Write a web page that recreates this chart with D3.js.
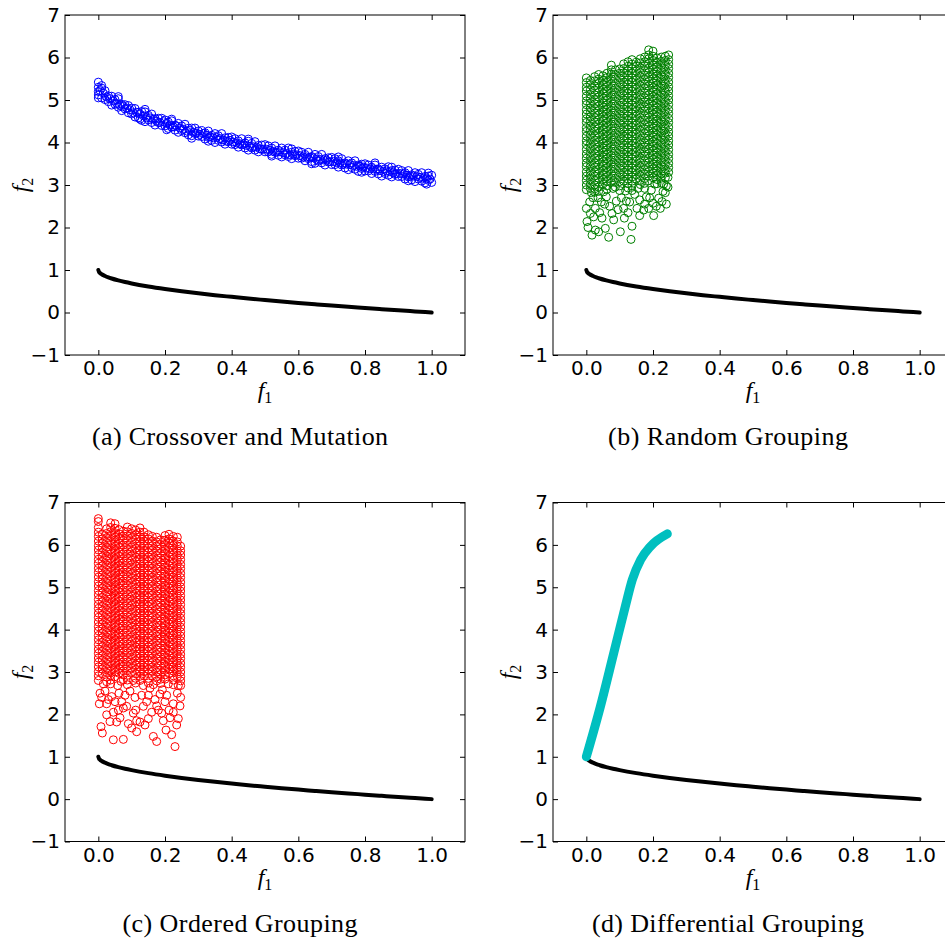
<!DOCTYPE html>
<html>
<head>
<meta charset="utf-8">
<script src="https://cdn.jsdelivr.net/npm/d3@7"></script>
<style>
  body { margin: 0; background: #fff; }
  svg { display: block; }
</style>
</head>
<body>
<div class="chart"></div>
<script>
// ---- data ----
var xTicks = [0.0, 0.2, 0.4, 0.6, 0.8, 1.0];
var yTicks = [-1, 0, 1, 2, 3, 4, 5, 6, 7];
var captions = ["(a) Crossover and Mutation", "(b) Random Grouping", "(c) Ordered Grouping", "(d) Differential Grouping"];

// true Pareto front (black)
var frontF1 = [0, 0.002, 0.005, 0.01, 0.02, 0.03, 0.04, 0.06, 0.08, 0.1, 0.15, 0.2, 0.25, 0.3, 0.35, 0.4, 0.45, 0.5, 0.55, 0.6, 0.65, 0.7, 0.75, 0.8, 0.85, 0.9, 0.95, 1.0];
var frontF2 = [1, 0.955, 0.93, 0.9, 0.86, 0.827, 0.8, 0.755, 0.717, 0.684, 0.613, 0.553, 0.5, 0.452, 0.408, 0.368, 0.329, 0.293, 0.258, 0.225, 0.194, 0.163, 0.134, 0.106, 0.078, 0.051, 0.025, 0];

// (a) crossover and mutation population
var bluePts = [
  [0.00,5.42],[0.00,5.12],[0.00,5.30],[0.00,5.20],[0.00,5.05],[0.01,5.28],[0.01,5.05],[0.01,5.34],[0.02,5.22],[0.02,5.01],
  [0.03,5.10],[0.03,4.96],[0.04,5.09],[0.04,4.88],[0.05,5.01],[0.05,4.90],[0.06,5.03],[0.06,4.83],[0.07,4.90],[0.07,4.75],
  [0.08,4.89],[0.08,4.79],[0.09,4.87],[0.09,4.70],[0.10,4.81],[0.10,4.67],[0.11,4.80],[0.11,4.60],[0.12,4.71],[0.12,4.58],
  [0.13,4.73],[0.13,4.52],[0.14,4.72],[0.14,4.49],[0.15,4.64],[0.15,4.53],[0.16,4.67],[0.16,4.47],[0.17,4.56],[0.17,4.41],
  [0.18,4.57],[0.18,4.47],[0.19,4.57],[0.19,4.40],[0.20,4.53],[0.20,4.39],[0.21,4.48],[0.21,4.33],[0.22,4.51],[0.22,4.36],
  [0.23,4.41],[0.23,4.29],[0.24,4.45],[0.24,4.24],[0.25,4.39],[0.25,4.28],[0.26,4.43],[0.26,4.23],[0.27,4.33],[0.27,4.18],
  [0.28,4.34],[0.28,4.16],[0.29,4.34],[0.29,4.21],[0.30,4.27],[0.30,4.15],[0.31,4.28],[0.31,4.14],[0.32,4.23],[0.32,4.08],
  [0.33,4.27],[0.33,4.12],[0.34,4.17],[0.34,4.05],[0.35,4.21],[0.35,4.00],[0.36,4.16],[0.36,4.05],[0.37,4.21],[0.37,4.01],
  [0.38,4.11],[0.38,3.96],[0.39,4.12],[0.39,4.02],[0.40,4.13],[0.40,3.96],[0.41,4.09],[0.41,3.95],[0.42,4.04],[0.42,3.89],
  [0.43,4.09],[0.43,3.94],[0.44,3.99],[0.44,3.87],[0.45,4.03],[0.45,3.82],[0.46,3.98],[0.46,3.87],[0.47,4.02],[0.47,3.82],
  [0.48,3.93],[0.48,3.78],[0.49,3.94],[0.49,3.84],[0.50,3.95],[0.50,3.78],[0.51,3.92],[0.51,3.78],[0.52,3.87],[0.52,3.72],
  [0.53,3.92],[0.53,3.77],[0.54,3.82],[0.54,3.70],[0.55,3.87],[0.55,3.66],[0.56,3.82],[0.56,3.71],[0.57,3.87],[0.57,3.67],
  [0.58,3.77],[0.58,3.62],[0.59,3.79],[0.59,3.69],[0.60,3.80],[0.60,3.63],[0.61,3.77],[0.61,3.63],[0.62,3.72],[0.62,3.57],
  [0.63,3.77],[0.63,3.62],[0.64,3.67],[0.64,3.55],[0.65,3.72],[0.65,3.51],[0.66,3.67],[0.66,3.56],[0.67,3.72],[0.67,3.52],
  [0.68,3.62],[0.68,3.47],[0.69,3.64],[0.69,3.54],[0.70,3.65],[0.70,3.48],[0.71,3.62],[0.71,3.48],[0.72,3.57],[0.72,3.42],
  [0.73,3.62],[0.73,3.47],[0.74,3.52],[0.74,3.40],[0.75,3.57],[0.75,3.36],[0.76,3.52],[0.76,3.41],[0.77,3.57],[0.77,3.37],
  [0.78,3.47],[0.78,3.32],[0.79,3.49],[0.79,3.39],[0.80,3.50],[0.80,3.33],[0.81,3.47],[0.81,3.33],[0.82,3.42],[0.82,3.27],
  [0.83,3.47],[0.83,3.32],[0.84,3.38],[0.84,3.26],[0.85,3.42],[0.85,3.21],[0.86,3.38],[0.86,3.27],[0.87,3.43],[0.87,3.23],
  [0.88,3.34],[0.88,3.19],[0.89,3.35],[0.89,3.25],[0.90,3.37],[0.90,3.20],[0.91,3.34],[0.91,3.20],[0.92,3.29],[0.92,3.14],
  [0.93,3.34],[0.93,3.19],[0.94,3.24],[0.94,3.12],[0.95,3.29],[0.95,3.08],[0.96,3.25],[0.96,3.14],[0.97,3.29],[0.97,3.09],
  [0.98,3.20],[0.98,3.05],[0.99,3.21],[0.99,3.11],[1.00,3.23],[1.00,3.06],
  [0.06,5.08],[0.14,4.78],[0.22,4.55],[0.28,4.10],[0.33,4.03],[0.45,4.08],[0.52,3.68],[0.58,3.85],[0.64,3.50],
  [0.72,3.66],[0.79,3.30],[0.83,3.52],[0.88,3.42],[0.93,3.10],[0.99,3.28],[0.985,3.02],[0.125,4.55],[0.205,4.30],
  [0.005,5.22],[0.025,5.07],[0.045,4.98],[0.065,4.87],[0.085,4.81],[0.105,4.70],[0.125,4.67],[0.145,4.58],[0.165,4.55],
  [0.185,4.47],[0.205,4.45],[0.225,4.37],[0.245,4.34],[0.265,4.27],[0.285,4.24],[0.305,4.19],[0.325,4.17],[0.345,4.11],
  [0.365,4.09],[0.385,4.03],[0.405,4.01],[0.425,3.97],[0.445,3.93],[0.465,3.90],[0.485,3.85],[0.505,3.84],[0.525,3.79],
  [0.545,3.78],[0.565,3.74],[0.585,3.72],[0.605,3.69],[0.625,3.66],[0.645,3.64],[0.665,3.60],[0.685,3.58],[0.705,3.55],
  [0.725,3.52],[0.745,3.49],[0.765,3.46],[0.785,3.44],[0.805,3.40],[0.825,3.38],[0.845,3.34],[0.865,3.33],[0.885,3.29],
  [0.905,3.27],[0.925,3.23],[0.945,3.21],[0.965,3.18],[0.985,3.15],
  [0.015,5.16],[0.035,5.03],[0.055,4.92],[0.075,4.85],[0.095,4.77],[0.115,4.71],[0.135,4.63],[0.155,4.58],[0.175,4.50],
  [0.195,4.49],[0.215,4.41],[0.235,4.38],[0.255,4.31],[0.275,4.29],[0.295,4.22],[0.315,4.21],[0.335,4.14],[0.355,4.12],
  [0.375,4.06],[0.395,4.05],[0.415,3.99],[0.435,3.96],[0.455,3.91],[0.475,3.89],[0.495,3.84],[0.515,3.82],[0.535,3.77],
  [0.555,3.76],[0.575,3.71],[0.595,3.71],[0.615,3.66],[0.635,3.65],[0.655,3.60],[0.675,3.59],[0.695,3.55],[0.715,3.53],
  [0.735,3.49],[0.755,3.48],[0.775,3.44],[0.795,3.42],[0.815,3.38],[0.835,3.37],[0.855,3.32],[0.875,3.31],[0.895,3.27],
  [0.915,3.26],[0.935,3.21],[0.955,3.20],[0.975,3.16],[0.995,3.14]
];

// (b) random grouping population: columns of f1, f2 values in hundredths
var greenCols = [
  [0.000,[552,541,530,521,509,498,489,477,467,456,447,435,426,415,404,395,384,373,363,352,343,331,321,311,300,289]],
  [0.012,[546,536,524,513,503,492,481,471,460,450,439,428,418,407,397,386,376,365,355,344,333,323,313,302,292]],
  [0.025,[555,545,533,523,512,501,491,480,469,459,448,437,427,416,405,395,384,374,363,352,342,331,321,311,300,291,283]],
  [0.037,[560,549,539,528,518,507,496,486,475,465,454,443,433,422,412,401,390,380,369,359,348,337,327,316,306,295,285]],
  [0.050,[557,546,536,525,515,504,493,483,472,461,451,440,430,419,408,398,387,377,366,355,345,334,324,313,302]],
  [0.062,[563,553,542,532,521,510,500,489,479,468,457,447,436,426,415,404,394,383,373,362,351,341,330,320,309,298,290]],
  [0.075,[582,571,561,550,539,529,518,508,497,486,476,465,455,444,433,423,412,402,391,380,370,359,349,338,327,317,306]],
  [0.087,[571,560,550,539,528,518,507,497,486,475,465,454,444,433,422,412,401,391,380,369,359,348,338,327,316,306,295]],
  [0.100,[573,563,552,541,531,520,510,499,488,478,467,457,446,435,425,414,404,393,382,372,361,351,340,329,319,308,298,287]],
  [0.112,[585,574,564,553,542,532,521,511,500,489,479,468,458,447,436,426,415,405,394,383,373,362,352,341,330,320,309]],
  [0.125,[590,579,569,558,547,537,526,516,505,494,484,473,463,452,441,431,420,410,399,388,378,367,357,346,335,325,314,304,293]],
  [0.137,[595,584,574,563,552,542,531,521,510,499,489,478,468,457,446,436,425,415,404,393,383,372,362,351,340,330,319,309,298,287]],
  [0.150,[589,579,568,557,547,536,526,515,504,494,483,473,462,451,441,430,420,409,398,388,377,367,356,345,335,324,314]],
  [0.162,[597,587,576,565,555,544,534,523,512,502,491,481,470,459,449,438,428,417,406,396,385,375,364,353,343,332,322,311,301]],
  [0.175,[601,590,580,569,558,548,537,527,516,505,495,484,474,463,452,442,431,421,410,399,389,378,368,357,346,336,325,315,304,292]],
  [0.187,[618,606,597,586,575,565,554,544,533,522,512,501,491,480,469,459,448,438,427,416,406,395,385,374,363,353,342,332,321,310]],
  [0.200,[615,603,593,582,572,561,550,540,529,519,508,497,487,476,466,455,444,434,423,413,402,391,381,370,360,349,338,328,317]],
  [0.212,[599,589,578,568,557,546,536,525,515,504,493,483,472,462,451,440,430,419,409,398,387,377,366,356,345,334,324,313,303]],
  [0.225,[601,591,581,570,559,549,538,528,517,506,496,485,475,464,453,443,432,422,411,400,390,379,369,358,347,337,326,316,305]],
  [0.237,[603,593,582,572,561,550,540,529,519,508,497,487,476,466,455,444,434,423,413,402,391,381,370,360,349,338,328,317]],
  [0.247,[606,595,584,574,563,553,542,531,521,510,500,489,478,468,457,447,436,425,415,404,394,383,372,362,351,341,330]]
];
var greenLoose = [
  [0.000,2.45],[0.012,2.33],[0.002,2.14],[0.017,1.82],[0.027,1.94],[0.037,1.90],[0.022,2.25],[0.047,2.22],[0.067,1.77],
  [0.102,1.90],[0.077,2.33],[0.082,2.18],[0.112,2.45],[0.114,2.22],[0.134,1.72],[0.137,2.03],[0.152,2.45],[0.160,2.28],
  [0.172,2.41],[0.187,2.45],[0.202,2.28],[0.200,2.57],[0.222,2.45],[0.217,2.69],[0.237,2.82],[0.227,2.61],[0.057,1.98],
  [0.027,2.45],[0.045,2.60],[0.060,2.72],[0.090,2.62],[0.130,2.60],[0.160,2.65],[0.190,2.70],[0.240,2.55],[0.070,2.50],
  [0.010,2.60],[0.035,2.70],[0.105,2.70],[0.145,2.78],[0.175,2.55],[0.210,2.50],[0.245,2.95],[0.005,2.00],[0.040,2.35],
  [0.095,2.42],[0.125,2.35],[0.180,2.72],[0.245,3.18],[0.240,2.98],[0.230,2.85],[0.020,2.70],[0.055,2.55],[0.120,2.62],
  [0.015,2.82],[0.052,2.84],[0.080,2.92],[0.118,2.86],[0.155,2.92],[0.195,2.88],[0.205,3.02],[0.232,3.02]
];

// (c) ordered grouping population: columns of f1, f2 values in hundredths
var redCols = [
  [0.000,[662,655,641,630,620,609,598,588,577,566,556,545,535,524,513,503,492,482,471,460,450,439,429,418,407,397,386,376,365,354,344,333,323,312,301,291,280]],
  [0.012,[625,614,604,593,582,572,561,551,540,529,519,508,498,487,476,466,455,445,434,423,413,402,392,381,370,360,349,339,328,317,307,296]],
  [0.025,[638,627,617,606,595,585,574,564,553,542,532,521,511,500,489,479,468,458,447,436,426,415,405,394,383,373,362,352,341,330,320,309,299,288,277]],
  [0.037,[652,641,631,620,609,599,588,578,567,556,546,535,525,514,503,493,482,472,461,450,440,429,419,408,397,387,376,366,355,344,334,323,313,302,291,281,272]],
  [0.050,[650,639,628,618,607,597,586,575,565,554,544,533,522,512,501,491,480,469,459,448,438,427,416,406,395,385,374,363,353,342,332,321,310,300,289]],
  [0.062,[636,626,615,604,594,583,573,562,551,541,530,520,509,498,488,477,467,456,445,435,424,414,403,392,382,371,361,350,339,329,318,308,297]],
  [0.075,[632,621,611,600,589,579,568,558,547,536,526,515,505,494,483,473,462,452,441,430,420,409,399,388,377,367,356,346,335,324,314,303,293,282]],
  [0.087,[642,631,621,610,599,589,578,568,557,546,536,525,515,504,493,483,472,462,451,440,430,419,409,398,387,377,366,356,345,334,324,313,303,292,281,270]],
  [0.100,[638,627,617,606,595,585,574,564,553,542,532,521,511,500,489,479,468,458,447,436,426,415,405,394,383,373,362,352,341,330,320,309,299]],
  [0.112,[635,624,614,603,592,582,571,561,550,539,529,518,508,497,486,476,465,455,444,433,423,412,402,391,380,370,359,349,338,327,317,306,296,285,274]],
  [0.125,[640,630,619,608,598,587,577,566,555,545,534,524,513,502,492,481,471,460,449,439,428,418,407,396,386,375,365,354,343,333,322,312,301,290,280]],
  [0.137,[630,619,609,598,587,577,566,556,545,534,524,513,503,492,481,471,460,450,439,428,418,407,397,386,375,365,354,344,333,322,312,301,291]],
  [0.150,[624,614,603,592,582,571,561,550,539,529,518,508,497,486,476,465,455,444,433,423,412,402,391,380,370,359,349,338,327,317,306,296,285,274]],
  [0.162,[620,609,598,588,577,567,556,545,535,524,514,503,492,482,471,461,450,439,429,418,408,397,386,376,365,355,344,333,323,312,302,291]],
  [0.175,[618,607,597,586,575,565,554,544,533,522,512,501,491,480,469,459,448,438,427,416,406,395,385,374,363,353,342,332,321,310,300,289,279]],
  [0.187,[612,601,591,580,569,559,548,538,527,516,506,495,485,474,463,453,442,432,421,410,400,389,379,368,357,347,336,326,315,304,294,283,273]],
  [0.200,[622,611,601,590,580,569,558,548,537,527,516,505,495,484,474,463,452,442,431,421,410,399,389,378,368,357,346,336,325,315,304,293,283]],
  [0.212,[625,614,604,593,582,572,561,551,540,529,519,508,498,487,476,466,455,445,434,423,413,402,392,381,370,360,349,339,328,317,307,296]],
  [0.225,[620,609,599,588,577,567,556,546,535,524,514,503,493,482,471,461,450,440,429,418,408,397,387,376,365,355,344,334,323,312,302,291,281,270]],
  [0.237,[618,607,597,586,575,565,554,544,533,522,512,501,491,480,469,459,448,438,427,416,406,395,385,374,363,353,342,332,321,310,300,289]],
  [0.247,[597,586,576,565,554,544,533,523,512,501,491,480,470,459,448,438,427,417,406,395,385,374,364,353,342,332,321,311,300,289,279,268]]
];
var redLoose = [
  [0.003,2.25],[0.008,1.71],[0.012,1.56],[0.035,1.83],[0.045,1.40],[0.065,1.92],[0.075,1.41],[0.100,1.68],[0.115,1.59],
  [0.125,1.82],[0.150,1.90],[0.165,1.48],[0.175,1.36],[0.203,1.63],[0.220,1.52],[0.230,1.24],[0.235,1.75],[0.240,1.90],
  [0.215,1.92],[0.190,2.03],[0.105,2.03],[0.085,2.19],[0.135,2.19],[0.170,2.35],[0.025,1.99],[0.055,1.82],[0.140,1.75],
  [0.090,1.78],[0.060,2.10],[0.030,2.35],[0.195,1.85],[0.225,2.05],[0.160,2.05],[0.245,2.20],[0.115,1.85],[0.005,2.50],
  [0.020,2.55],[0.070,2.30],[0.045,2.05],[0.180,2.10],[0.130,2.45],[0.205,2.45],[0.155,2.62],[0.095,2.55],
  [0.010,2.40],[0.040,2.42],[0.050,2.30],[0.075,2.15],[0.080,2.45],[0.110,2.40],[0.112,2.10],[0.145,2.30],[0.150,2.45],
  [0.175,2.20],[0.185,2.48],[0.200,2.30],[0.212,2.10],[0.225,2.25],[0.237,2.50],[0.247,2.40],[0.062,2.50],[0.025,2.25],
  [0.015,2.72],[0.058,2.68],[0.068,2.78],[0.105,2.80],[0.135,2.68],[0.165,2.70],[0.192,2.58],[0.210,2.72],[0.240,2.68]
];

// (d) differential grouping population (dense, drawn as a thick trace)
var cyanF1 = [0, 0.042, 0.082, 0.117, 0.138, 0.163, 0.193, 0.243];
var cyanF2 = [1.0, 2.18, 3.44, 4.55, 5.18, 5.65, 5.97, 6.26];

// ---- helpers to turn columns into point lists ----
function fromCols(cols, loose) {
  var out = [];
  cols.forEach(function(c) {
    c[1].forEach(function(v) { out.push([c[0], v / 100]); });
  });
  return out.concat(loose);
}

var panels = [
  { left: 65,  top: 15,    height: 340, pts: bluePts,                         color: "#0000ff" },
  { left: 553, top: 15,    height: 340, pts: fromCols(greenCols, greenLoose), color: "#008000" },
  { left: 65,  top: 502.5, height: 339, pts: fromCols(redCols, redLoose),     color: "#ff0000" },
  { left: 553, top: 502.5, height: 339, pts: null,                            color: "#00bfbf" }
];

var capWidth = [296, 240, 235, 272];

var svg = d3.select(".chart")
  .append("svg")
  .attr("width", 945)
  .attr("height", 940);

panels.forEach(function(p, i) {
  var width = 400;
  var height = p.height;

  var g = svg.append("g")
    .attr("transform", `translate(${p.left}, ${p.top})`);

  var x = d3.scaleLinear().domain([-0.1, 1.1]).range([0, width]);
  var y = d3.scaleLinear().domain([-1, 7]).range([height, 0]);

  // Pareto front
  var front = frontF1.map(function(d, k) { return [d, frontF2[k]]; });
  g.append("path")
    .datum(front)
    .attr("fill", "none")
    .attr("stroke", "#000")
    .attr("stroke-width", 4)
    .attr("stroke-linecap", "round")
    .attr("d", d3.line().x(d => x(d[0])).y(d => y(d[1])).curve(d3.curveMonotoneX));

  if (p.pts) {
    g.selectAll("circle")
      .data(p.pts)
      .enter()
      .append("circle")
      .attr("cx", d => x(d[0]))
      .attr("cy", d => y(d[1]))
      .attr("r", 4)
      .attr("fill", "none")
      .attr("stroke", p.color)
      .attr("stroke-width", 1);
  } else {
    var trace = cyanF1.map(function(d, k) { return [d, cyanF2[k]]; });
    g.append("path")
      .datum(trace)
      .attr("fill", "none")
      .attr("stroke", p.color)
      .attr("stroke-width", 9)
      .attr("stroke-linecap", "round")
      .attr("stroke-linejoin", "round")
      .attr("d", d3.line().x(d => x(d[0])).y(d => y(d[1])).curve(d3.curveMonotoneX));
  }

  // axes, ticks pointing inwards on all four sides
  var xAxis = d3.axisBottom(x).tickValues(xTicks).tickSizeInner(-5).tickSizeOuter(0)
    .tickPadding(6).tickFormat(d3.format(".1f"));
  var yAxis = d3.axisLeft(y).tickValues(yTicks).tickSizeInner(-5).tickSizeOuter(0)
    .tickPadding(5).tickFormat(d3.format("d"));

  var gx = g.append("g").attr("transform", `translate(0, ${height})`).call(xAxis);
  var gy = g.append("g").call(yAxis);
  g.append("g").call(d3.axisTop(x).tickValues(xTicks).tickSizeInner(-5).tickSizeOuter(0).tickFormat(""));
  g.append("g").attr("transform", `translate(${width}, 0)`)
    .call(d3.axisRight(y).tickValues(yTicks).tickSizeInner(-5).tickSizeOuter(0).tickFormat(""));

  g.selectAll(".domain").remove();
  g.selectAll(".tick line").attr("stroke", "#000");
  [gx, gy].forEach(function(a) {
    a.selectAll("text")
      .attr("font-family", "DejaVu Sans")
      .attr("font-size", "20px")
      .attr("fill", "#000");
  });

  g.append("rect")
    .attr("width", width)
    .attr("height", height)
    .attr("fill", "none")
    .attr("stroke", "#000")
    .attr("stroke-width", 1);

  // axis labels
  var xl = g.append("text")
    .attr("x", width / 2)
    .attr("y", height + 43)
    .attr("text-anchor", "middle")
    .attr("font-family", "Liberation Serif")
    .attr("font-size", "24px");
  xl.append("tspan").attr("font-style", "italic").text("f");
  xl.append("tspan").attr("font-size", "16px").attr("dy", 5).text("1");

  var yl = g.append("text")
    .attr("transform", `translate(-37, ${height / 2}) rotate(-90)`)
    .attr("text-anchor", "middle")
    .attr("font-family", "Liberation Serif")
    .attr("font-size", "24px");
  yl.append("tspan").attr("font-style", "italic").text("f");
  yl.append("tspan").attr("font-size", "16px").attr("dy", 5).text("2");

  // caption under the panel
  g.append("text")
    .attr("x", 175)
    .attr("y", height + 90)
    .attr("text-anchor", "middle")
    .attr("font-family", "Liberation Serif")
    .attr("font-size", "26px")
    .attr("textLength", capWidth[i])
    .attr("lengthAdjust", "spacing")
    .attr("fill", "#000")
    .text(captions[i]);
});
</script>
</body>
</html>
